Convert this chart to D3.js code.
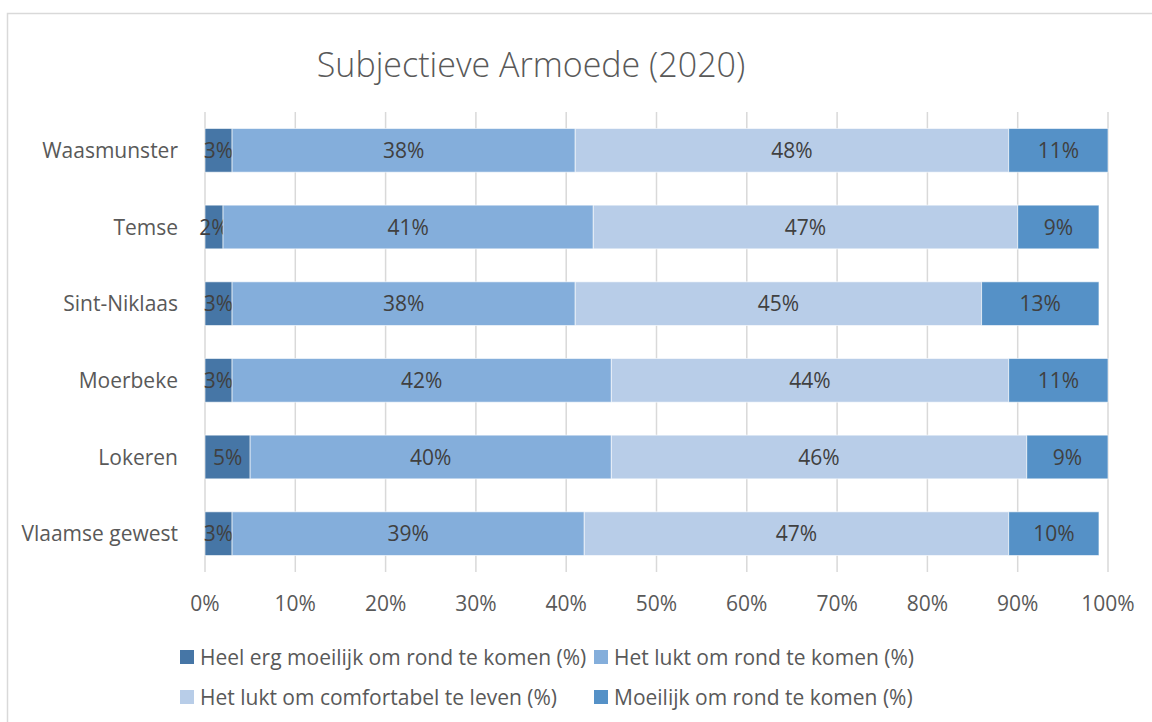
<!DOCTYPE html>
<html>
<head>
<meta charset="utf-8">
<script src="https://cdn.jsdelivr.net/npm/d3@7.9.0/dist/d3.min.js"></script>
<style>
  body { margin: 0; background: #fff; }
  svg { display: block; font-family: 'Open Sans', Lato, sans-serif; }
</style>
</head>
<body>
<svg id="chart" width="1152" height="722"></svg>
<script>
// data
const categories = ['Waasmunster', 'Temse', 'Sint-Niklaas', 'Moerbeke', 'Lokeren', 'Vlaamse gewest'];
const seriesNames = [
  'Heel erg moeilijk om rond te komen (%)',
  'Het lukt om rond te komen (%)',
  'Het lukt om comfortabel te leven (%)',
  'Moeilijk om rond te komen (%)'
];
const heelErgMoeilijk = [3, 2, 3, 3, 5, 3];
const luktRond = [38, 41, 38, 42, 40, 39];
const comfortabel = [48, 47, 45, 44, 46, 47];
const moeilijk = [11, 9, 13, 11, 9, 10];
const tickValues = [0, 10, 20, 30, 40, 50, 60, 70, 80, 90, 100];
const colors = ['#4676a6', '#84aedb', '#b8cde8', '#5591c7'];

const svg = d3.select('#chart');

// chart frame
svg.append('path')
  .attr('d', 'M7.5,760 V13.5 H1160')
  .attr('fill', 'none')
  .attr('stroke', '#d9d9d9')
  .attr('stroke-width', 1.5);

svg.append('text')
  .attr('x', 531)
  .attr('y', 77)
  .attr('text-anchor', 'middle')
  .attr('font-size', 34)
  .attr('font-weight', 300)
  .attr('fill', '#595959')
  .text('Subjectieve Armoede (2020)');

const x = d3.scaleLinear().domain([0, 100]).range([205, 1108]);
const y = d3.scaleBand().domain(categories).range([112, 572]).paddingInner(0.43).paddingOuter(0.215);

// gridlines
svg.append('g')
  .selectAll('line')
  .data(tickValues)
  .join('line')
  .attr('x1', (d) => x(d))
  .attr('x2', (d) => x(d))
  .attr('y1', 112)
  .attr('y2', 572)
  .attr('stroke', '#d9d9d9')
  .attr('stroke-width', 1.5);

let rows = categories.map((c, i) => ({
  cat: c,
  [seriesNames[0]]: heelErgMoeilijk[i],
  [seriesNames[1]]: luktRond[i],
  [seriesNames[2]]: comfortabel[i],
  [seriesNames[3]]: moeilijk[i]
}));

let stacked = d3.stack().keys(seriesNames)(rows);

stacked.forEach((layer, k) => {
  let g = svg.append('g');
  g.selectAll('rect')
    .data(layer)
    .join('rect')
    .attr('x', (d) => x(d[0]))
    .attr('width', (d) => x(d[1]) - x(d[0]))
    .attr('y', (d) => y(d.data.cat))
    .attr('height', y.bandwidth())
    .attr('fill', colors[k])
    .attr('stroke', 'rgba(255,255,255,0.6)')
    .attr('stroke-width', 1);

  g.selectAll('text')
    .data(layer)
    .join('text')
    .attr('x', (d) => (x(d[0]) + x(d[1])) / 2)
    .attr('y', (d) => y(d.data.cat) + y.bandwidth() / 2 + 7.5)
    .attr('text-anchor', 'middle')
    .attr('font-size', 21)
    .attr('fill', '#404040')
    .text((d) => `${d[1] - d[0]}%`);
});

// category labels
svg.append('g')
  .selectAll('text')
  .data(categories)
  .join('text')
  .attr('x', 178)
  .attr('y', (d) => y(d) + y.bandwidth() / 2 + 7.5)
  .attr('text-anchor', 'end')
  .attr('font-size', 21)
  .attr('fill', '#595959')
  .text((d) => d);

// tick labels
svg.append('g')
  .selectAll('text')
  .data(tickValues)
  .join('text')
  .attr('x', (d) => x(d))
  .attr('y', 611)
  .attr('text-anchor', 'middle')
  .attr('font-size', 21)
  .attr('fill', '#595959')
  .text((d) => `${d}%`);

// legend
const legendPos = [[180, 657], [594, 657], [180, 697], [594, 697]];
seriesNames.forEach((name, i) => {
  let [lx, ly] = legendPos[i];
  svg.append('rect')
    .attr('x', lx)
    .attr('y', ly - 7)
    .attr('width', 14)
    .attr('height', 14)
    .attr('fill', colors[i]);
  svg.append('text')
    .attr('x', lx + 20)
    .attr('y', ly + 7.5)
    .attr('font-size', 21)
    .attr('fill', '#595959')
    .text(name);
});
</script>
</body>
</html>
